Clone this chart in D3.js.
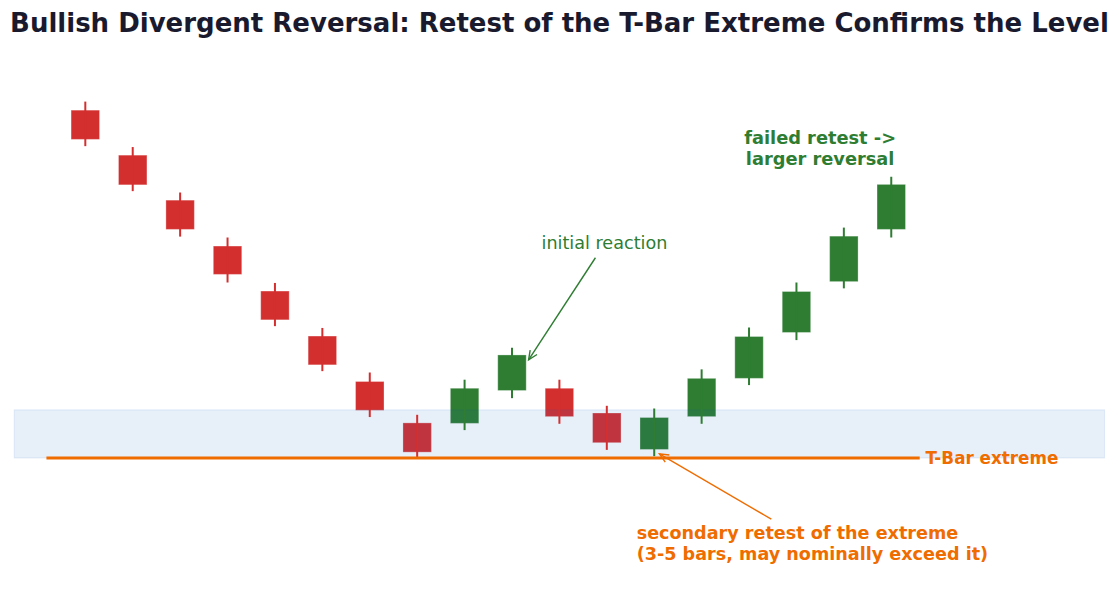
<!DOCTYPE html>
<html>
<head>
<meta charset="utf-8">
<script src="https://cdn.jsdelivr.net/npm/d3@7"></script>
<style>
  html, body { margin: 0; padding: 0; background: #ffffff; }
  svg { display: block; font-family: "DejaVu Sans", sans-serif; }
</style>
</head>
<body>
<svg id="chart" width="1119" height="608"></svg>
<script>
// ---- data ----
const barIndex = [0,1,2,3,4,5,6,7,8,9,10,11,12,13,14,15,16,17];
const opens  = [177.3,167.3,157.3,147.1,137.1,127.1,117.0,107.8,107.7,115.0,115.5,110.0,101.9,109.2,117.7,127.9,139.2,150.8];
const highs  = [179.2,169.1,159.0,149.0,138.9,128.9,119.0,109.6,117.4,124.5,117.4,111.6,111.0,119.7,129.0,139.0,151.2,162.5];
const lows   = [169.3,159.3,149.2,139.0,129.3,119.3,109.1,100.0,106.2,113.3,107.6,101.8,100.4,107.6,116.2,126.2,137.7,149.0];
const closes = [170.8,160.7,150.8,140.8,130.7,120.7,110.6,101.3,115.5,122.9,109.2,103.4,109.0,117.7,127.0,137.0,149.3,160.8];
const tBarExtreme = 100.0;
const zoneTop = 110.7;

const title = "Bullish Divergent Reversal: Retest of the T-Bar Extreme Confirms the Level";

// ---- layout ----
const svg = d3.select("#chart");
const x = d3.scaleLinear().domain([-1.5, 21.5]).range([14.2, 1104.6]);
const y = d3.scaleLinear().domain([80, 200]).range([548, 8]);

const RED = "#d32f2f", GREEN = "#2e7d32", ORANGE = "#ef6c00", BLUE = "#1565c0";
const bodyW = x(0.3) - x(-0.3);

const candles = barIndex.map((i, k) => ({
  i, o: opens[k], h: highs[k], l: lows[k], c: closes[k], up: closes[k] >= opens[k]
}));

// bodies
svg.append("g").selectAll("rect").data(candles).join("rect")
  .attr("x", d => x(d.i) - bodyW / 2)
  .attr("width", bodyW)
  .attr("y", d => y(Math.max(d.o, d.c)))
  .attr("height", d => y(Math.min(d.o, d.c)) - y(Math.max(d.o, d.c)))
  .attr("fill", d => d.up ? GREEN : RED)
  .attr("stroke", "#ffffff").attr("stroke-opacity", 0.3).attr("stroke-width", 1);

// retest zone band
svg.append("rect")
  .attr("x", x(-1.5)).attr("width", x(21.5) - x(-1.5))
  .attr("y", y(zoneTop)).attr("height", y(tBarExtreme) - y(zoneTop))
  .attr("fill", BLUE).attr("fill-opacity", 0.1)
  .attr("stroke", BLUE).attr("stroke-opacity", 0.1).attr("stroke-width", 1);

// wicks
svg.append("g").selectAll("line").data(candles).join("line")
  .attr("x1", d => x(d.i)).attr("x2", d => x(d.i))
  .attr("y1", d => y(d.h)).attr("y2", d => y(d.l))
  .attr("stroke", d => d.up ? GREEN : RED).attr("stroke-width", 2);

// T-bar extreme line
svg.append("line")
  .attr("x1", x(-0.82)).attr("x2", x(17.6))
  .attr("y1", y(tBarExtreme)).attr("y2", y(tBarExtreme))
  .attr("stroke", ORANGE).attr("stroke-width", 3);
svg.append("text")
  .attr("x", x(17.72)).attr("y", y(tBarExtreme)).attr("dy", "0.36em")
  .attr("fill", ORANGE).attr("font-weight", "bold").attr("font-size", "16.8px")
  .text("T-Bar extreme");

// arrow helper
function arrow(x0, y0, x1, y1, color) {
  const ang = Math.atan2(y1 - y0, x1 - x0);
  const L = 10, spread = 0.42;
  svg.append("line").attr("x1", x0).attr("y1", y0).attr("x2", x1).attr("y2", y1)
    .attr("stroke", color).attr("stroke-width", 1.4);
  const p1 = [x1 - L * Math.cos(ang - spread), y1 - L * Math.sin(ang - spread)];
  const p2 = [x1 - L * Math.cos(ang + spread), y1 - L * Math.sin(ang + spread)];
  svg.append("path")
    .attr("d", `M${p1[0]},${p1[1]}L${x1},${y1}L${p2[0]},${p2[1]}`)
    .attr("fill", "none").attr("stroke", color).attr("stroke-width", 1.4);
}

// initial reaction
svg.append("text")
  .attr("x", x(10.95)).attr("y", y(146.4)).attr("text-anchor", "middle")
  .attr("fill", GREEN).attr("font-size", "17.6px")
  .text("initial reaction");
arrow(x(10.76), y(144.5), x(9.35), y(121.8), GREEN);

// failed retest
const ft = svg.append("text")
  .attr("x", x(15.5)).attr("y", y(169.75)).attr("text-anchor", "middle")
  .attr("fill", GREEN).attr("font-weight", "bold").attr("font-size", "17.8px");
ft.append("tspan").attr("x", x(15.5)).text("failed retest ->");
ft.append("tspan").attr("x", x(15.5)).attr("dy", 21).text("larger reversal");

// secondary retest
const st = svg.append("text")
  .attr("x", x(11.63)).attr("y", y(82.0)).attr("text-anchor", "start")
  .attr("fill", ORANGE).attr("font-weight", "bold").attr("font-size", "17.6px");
st.append("tspan").attr("x", x(11.63)).text("secondary retest of the extreme");
st.append("tspan").attr("x", x(11.63)).attr("dy", 21).text("(3-5 bars, may nominally exceed it)");
arrow(x(14.47), y(86.4), x(12.11), y(100.9), ORANGE);

// title
svg.append("text")
  .attr("x", 559.5).attr("y", 32).attr("text-anchor", "middle")
  .attr("fill", "#1a1a2e").attr("font-weight", "bold").attr("font-size", "26px")
  .text(title);
</script>
</body>
</html>
